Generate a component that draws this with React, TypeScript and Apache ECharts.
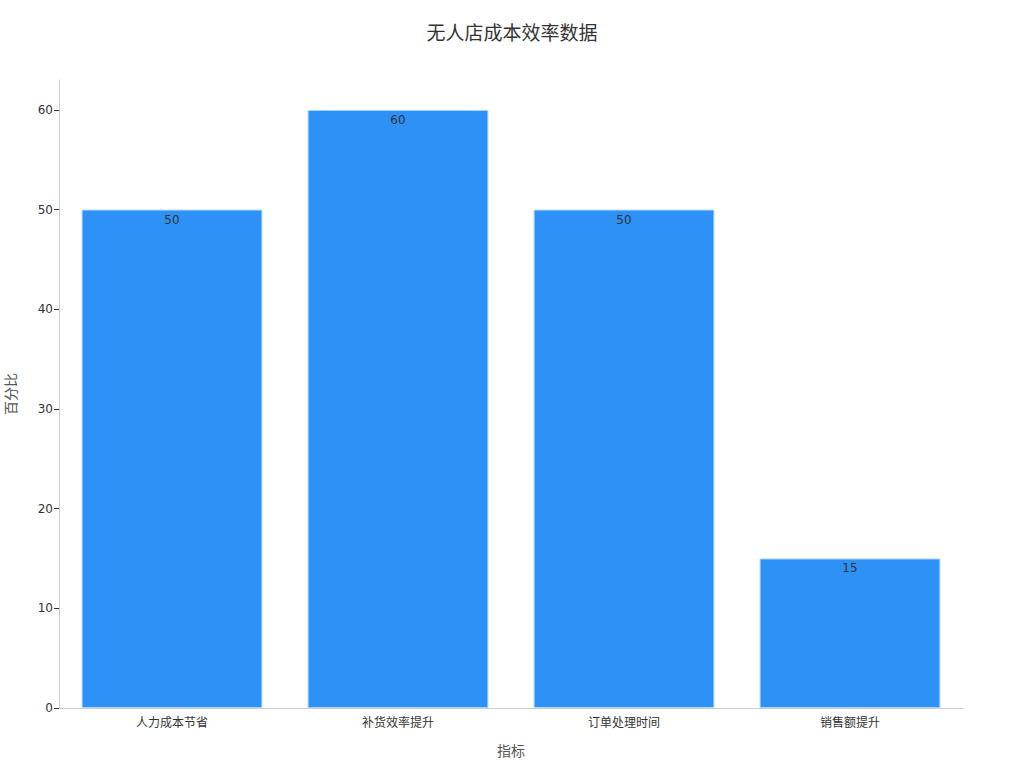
import React, { useEffect, useRef } from "react";
import * as echarts from "echarts";

const categories = ["人力成本节省", "补货效率提升", "订单处理时间", "销售额提升"];
const values = [50, 60, 50, 15];
const title = "无人店成本效率数据";
const xName = "指标";
const yName = "百分比";

const FONT = "DejaVu Sans, Noto Sans CJK SC, sans-serif";

export default function App() {
  const ref = useRef<HTMLDivElement>(null);
  useEffect(() => {
    if (!ref.current) return;
    const chart = echarts.init(ref.current, undefined, { renderer: "svg" });
    chart.setOption({
      animation: false,
      backgroundColor: "#ffffff",
      textStyle: { fontFamily: FONT },
      title: {
        text: title,
        left: "center",
        top: 18,
        textStyle: { fontSize: 19, fontWeight: "normal", color: "#333333", fontFamily: FONT },
      },
      grid: { left: 59, right: 61, top: 80, bottom: 60, containLabel: false, outerBoundsMode: "none" },
      xAxis: {
        type: "category",
        data: categories,
        name: xName,
        nameLocation: "middle",
        nameGap: 36,
        nameTextStyle: { fontSize: 14, color: "#555555", fontFamily: FONT },
        axisLine: { lineStyle: { color: "#cccccc" } },
        axisTick: { alignWithLabel: true, length: 4, lineStyle: { color: "#999999" } },
        axisLabel: { fontSize: 12, color: "#333333", margin: 9, fontFamily: FONT },
      },
      yAxis: {
        type: "value",
        min: 0,
        max: 63,
        interval: 10,
        name: yName,
        nameLocation: "middle",
        nameGap: 41,
        nameRotate: 90,
        nameTextStyle: { fontSize: 14, color: "#555555", fontFamily: FONT },
        axisLine: { show: true, lineStyle: { color: "#cccccc" } },
        axisTick: { show: true, length: 5, lineStyle: { color: "#333333" } },
        axisLabel: { fontSize: 12, color: "#333333", margin: 6, fontFamily: FONT, showMaxLabel: false },
        splitLine: { show: false },
      },
      series: [
        {
          type: "bar",
          data: values,
          barWidth: "80%",
          itemStyle: { color: "#2e91f8", borderColor: "#a8d4ff", borderWidth: 1 },
          label: {
            show: true,
            position: "insideTop",
            distance: 4,
            fontSize: 12,
            color: "#333333",
            fontFamily: FONT,
          },
        },
      ],
    });
    return () => chart.dispose();
  }, []);
  return (
    <div
      ref={ref}
      style={{ position: "fixed", left: 0, top: 0, width: 1024, height: 768 }}
    />
  );
}
